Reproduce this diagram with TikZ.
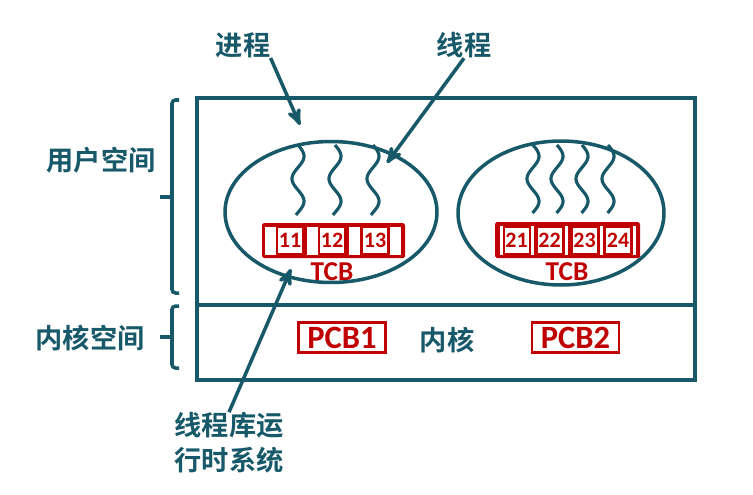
\documentclass[tikz,border=0pt]{standalone}
\usepackage{fontspec}
\newfontfamily\cjk{Noto Sans CJK SC Bold}
\newfontfamily\lat{Carlito Bold}
\usetikzlibrary{arrows}
\definecolor{deepteal}{RGB}{23,89,105}
\definecolor{tcbred}{RGB}{192,0,0}
\tikzset{x=0.02cm, y=-0.02cm, % one unit is one pixel of the sketch
label/.style={ % Chinese captions
text=deepteal, inner sep=0pt,
font=\cjk\fontsize{15.5}{20}\selectfont},
pointer/.style={draw=deepteal, line width=2pt, -stealth'}, % arrows from the captions
frame/.style={draw=deepteal, line width=2pt},
bracket/.style={draw=deepteal, line width=2pt, rounded corners=2pt},
wave/.style={draw=deepteal, line width=1.8pt},
bar/.style={fill=tcbred, rounded corners=1pt}, % red TCB strip
num/.style={ % one thread slot
fill=white, text=tcbred, inner sep=0pt,
minimum width=0.48cm, minimum height=0.5cm,
font=\lat\fontsize{12.5}{14}\selectfont},
pcb/.style={ % process control block
draw=tcbred, line width=1.5pt, fill=white, text=tcbred, inner sep=0pt,
minimum width=1.74cm, minimum height=0.6cm,
font=\lat\fontsize{18.5}{20}\selectfont},
tcbtext/.style={text=tcbred, inner sep=0pt, font=\lat\fontsize{15.5}{16}\selectfont}}

\begin{document}
\begin{tikzpicture}
    \useasboundingbox (0,0) rectangle (753,494);

    % address space
    \draw[frame] (197,98) rectangle (695,380);
    \draw[frame] (197,305) -- (695,305);
    \draw[bracket] (179,100) -- (172,100) -- (172,293) -- (179,293);
    \draw[bracket] (172,197) -- (160,197);
    \draw[bracket] (179,306) -- (172,306) -- (172,368) -- (179,368);
    \draw[bracket] (172,337) -- (160,337);
    \node[label] (user) at (101,160) {用户空间};
    \node[label] (kern) at (90,338) {内核空间};

    % two processes
    \draw[frame] (331,212) ellipse [x radius=2.12cm, y radius=1.41cm];
    \draw[frame] (561,213) ellipse [x radius=2.06cm, y radius=1.44cm];
    \foreach \wx in {298,335,373}
        \draw[wave] plot[variable=\t, domain=0:70, samples=50, smooth] ({\wx+6*sin(8*\t)},{145+\t});
    \foreach \wx in {533,557,582,608}
        \draw[wave] plot[variable=\t, domain=0:68, samples=50, smooth] ({\wx+6*sin(8*\t)},{145+\t});

    % thread control blocks
    \fill[bar] (262,223) rectangle (405,258);
    \foreach \sx in {265,307,349,390}
        \fill[white] (\sx,227) rectangle ++(11,28);
    \foreach \n/\cx in {11/290,12/332,13/375}
        \node[num] (t\n) at (\cx,240.5) {\n};
    \node[tcbtext] (tcbA) at (332,272) {TCB};

    \fill[bar] (495,222) rectangle (640,258);
    \foreach \sx in {500,530.5,564.5,600,633}
        \fill[white] (\sx,226) rectangle ++(3,29);
    \foreach \n/\cx in {21/516.5,22/549.5,23/584.5,24/618}
        \node[num] (t\n) at (\cx,240.5) {\n};
    \node[tcbtext] (tcbB) at (567,272) {TCB};

    % kernel
    \node[pcb] (pcbA) at (342,337.5) {PCB1};
    \node[pcb] (pcbB) at (575.5,337.5) {PCB2};
    \node[label] (core) at (447,340) {内核};

    % captions
    \node[label] (proc) at (243,45) {进程};
    \node[label] (thr) at (464,45) {线程};
    \node[label, align=center] (lib) at (229,443) {线程库运\\行时系统};
    \coordinate (procTip) at (300,125);
    \coordinate (thrTip) at (387,163);
    \coordinate (libTip) at (291,269);
    \draw[pointer] (proc.south east) -- (procTip);
    \draw[pointer] (thr.south) -- (thrTip);
    \draw[pointer] (lib.north) -- (libTip);

\end{tikzpicture}
\end{document}
